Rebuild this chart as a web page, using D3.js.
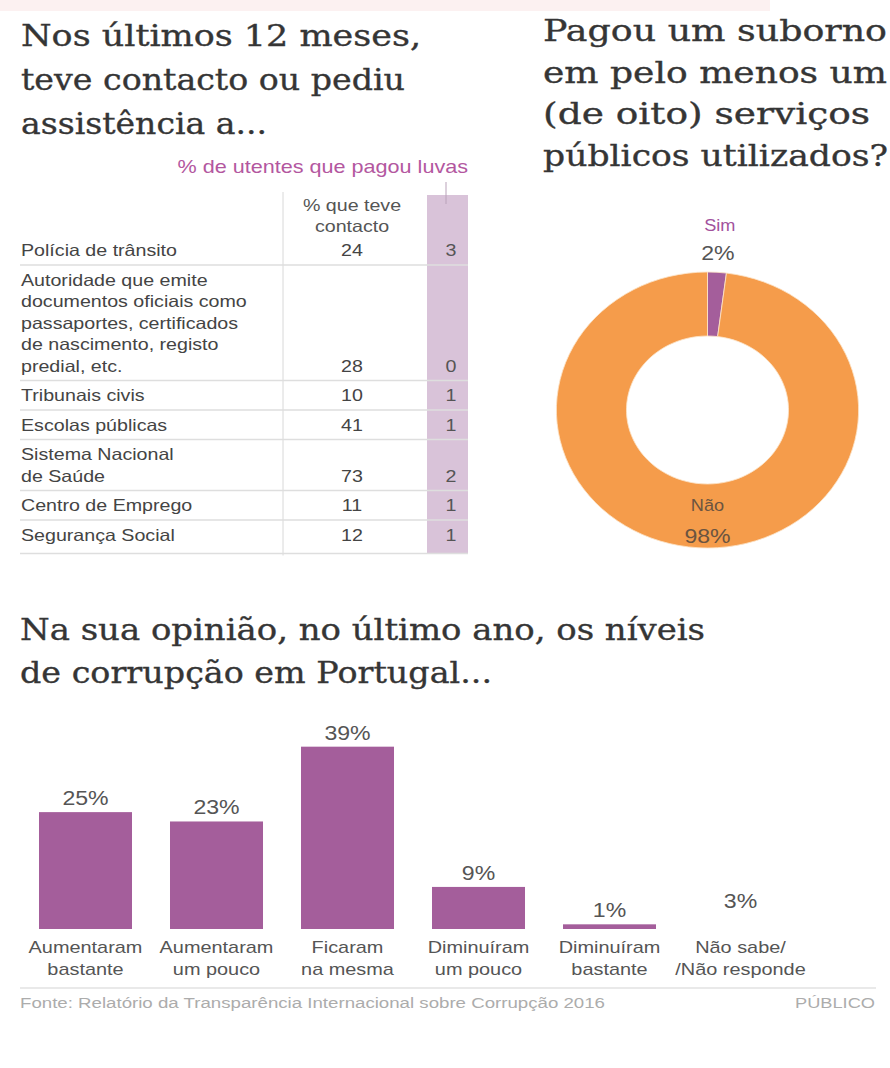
<html>
<script src="https://d3js.org/d3.v7.min.js"></script>
<style>
body { margin: 0; background: #fff; }
svg { display: block; }
</style>
<body>
<svg width="890" height="1068"></svg>
<script>
// ---- data ----
var titleLeft = ["Nos últimos 12 meses,", "teve contacto ou pediu", "assistência a..."];
var titleRight = ["Pagou um suborno", "em pelo menos um", "(de oito) serviços", "públicos utilizados?"];
var titleBottom = ["Na sua opinião, no último ano, os níveis", "de corrupção em Portugal..."];

var rowLabels = [
  ["Polícia de trânsito"],
  ["Autoridade que emite", "documentos oficiais como", "passaportes, certificados", "de nascimento, registo", "predial, etc."],
  ["Tribunais civis"],
  ["Escolas públicas"],
  ["Sistema Nacional", "de Saúde"],
  ["Centro de Emprego"],
  ["Segurança Social"]
];
var contacto = [24, 28, 10, 41, 73, 11, 12];
var luvas = [3, 0, 1, 1, 2, 1, 1];

var pieLabels = ["Sim", "Não"];
var pieValues = [2, 98];

var barCats = [
  ["Aumentaram", "bastante"],
  ["Aumentaram", "um pouco"],
  ["Ficaram", "na mesma"],
  ["Diminuíram", "um pouco"],
  ["Diminuíram", "bastante"],
  ["Não sabe/", "/Não responde"]
];
var barValues = [25, 23, 39, 9, 1, 3];

var source = "Fonte: Relatório da Transparência Internacional sobre Corrupção 2016";

// ---- helpers ----
var purple = "#a45e9b", lilac = "#d9c3d9", orange = "#f59c4b";
var sans = "'Liberation Sans', Arial, sans-serif";
var serif = "'DejaVu Serif', Georgia, serif";
var svg = d3.select("svg");

// text squeezed/stretched horizontally like the original
function stxt(g, x, y, s, size, sx, anchor, fill) {
  return g.append("text")
    .attr("transform", "translate(" + x + "," + y + ") scale(" + sx + ",1)")
    .attr("font-family", sans)
    .attr("font-size", size)
    .attr("text-anchor", anchor || "start")
    .attr("fill", fill || "#444")
    .text(s);
}
function title(lines, x, y0, step, widths) {
  lines.forEach(function(l, i) {
    svg.append("text")
      .attr("x", x).attr("y", y0 + i * step)
      .attr("font-family", serif)
      .attr("font-size", 29.5)
      .attr("fill", "#353535")
      .attr("stroke", "#353535").attr("stroke-width", 0.35)
      .attr("textLength", widths[i])
      .attr("lengthAdjust", "spacingAndGlyphs")
      .text(l);
  });
}

svg.append("rect").attr("x", 0).attr("y", 0).attr("width", 770).attr("height", 11).attr("fill", "#fcf1f1");

// ---- titles ----
title(titleLeft, 21, 46, 44, [400, 384, 246]);
title(titleRight, 543, 41, 41.5, [344, 344, 327, 345]);
title(titleBottom, 20, 640, 43, [685, 472]);

// ---- table ----
var tbl = svg.append("g");
var lineH = 21.5, pad = 8, top0 = 235.5;
var colC = 352, colL = 451;
var tops = [], y = top0;
rowLabels.forEach(function(r) { tops.push(y); y += r.length * lineH + pad; });
var tableBottom = y + 4;

tbl.append("rect").attr("x", 427).attr("y", 195).attr("width", 41).attr("height", tableBottom - 195).attr("fill", lilac);
tbl.append("line").attr("x1", 283).attr("x2", 283).attr("y1", 192).attr("y2", tableBottom + 2)
  .attr("stroke", "#d8d8d8").attr("stroke-width", 1);
tbl.append("line").attr("x1", 446).attr("x2", 446).attr("y1", 182).attr("y2", 204)
  .attr("stroke", "#b9a2b9").attr("stroke-width", 1);

stxt(tbl, 468, 173, "% de utentes que pagou luvas", 18, 1.2, "end", "#b3579f");
stxt(tbl, colC, 211, "% que teve", 16.5, 1.19, "middle", "#555");
stxt(tbl, colC, 232, "contacto", 16.5, 1.19, "middle", "#555");

rowLabels.forEach(function(r, i) {
  var bottom = tops[i] + r.length * lineH + pad;
  var base = bottom - 9;
  r.forEach(function(l, j) {
    stxt(tbl, 21, base - (r.length - 1 - j) * lineH, l, 16.5, 1.19, "start", "#444");
  });
  stxt(tbl, colC, base, contacto[i], 16.5, 1.19, "middle", "#444");
  stxt(tbl, colL, base, luvas[i], 16.5, 1.19, "middle", "#555");
  var ly = i === rowLabels.length - 1 ? tableBottom : bottom;
  tbl.append("line").attr("x1", 20).attr("x2", 468).attr("y1", ly).attr("y2", ly)
    .attr("stroke", "#dedede").attr("stroke-width", 1.3);
});

// ---- donut ----
var cx = 707.5, cy = 410, rOut = 138, rIn = 74, sx = 1.095;
var pie = d3.pie().sort(null).value(function(d) { return d; });
var arcs = pie(pieValues);
var arc = d3.arc().innerRadius(rIn).outerRadius(rOut);
var dg = svg.append("g").attr("transform", "translate(" + cx + "," + cy + ") scale(" + sx + ",1)");
dg.selectAll("path").data(arcs).enter().append("path")
  .attr("d", arc)
  .attr("fill", function(d, i) { return i === 0 ? purple : orange; })
  .attr("stroke", "#fbe3c8").attr("stroke-width", 0.8);

arcs.forEach(function(d, i) {
  var small = d.endAngle - d.startAngle < Math.PI;
  var a = small ? (d.startAngle + d.endAngle) / 2 : Math.PI;
  var rName = small ? 179 : 101, rPct = small ? 150 : 133;
  var px = function(r) { return cx + Math.sin(a) * r * sx; };
  var py = function(r) { return cy - Math.cos(a) * r; };
  stxt(svg, px(rName), py(rName), pieLabels[i], 16.5, 1.1, "middle", small ? "#a2529d" : "#6b5440");
  stxt(svg, px(rPct), py(rPct), pieValues[i] + "%", 21, 1.1, "middle", small ? "#555" : "#6b5440");
});

// ---- bars ----
var x = d3.scaleBand().domain(d3.range(barValues.length)).range([20, 806]).paddingInner(0.29).paddingOuter(0.145);
var yb = d3.scaleLinear().domain([0, 40]).range([929, 742]);
var bg = svg.append("g");
bg.selectAll("rect").data(barValues).enter().append("rect")
  .attr("x", function(d, i) { return x(i); })
  .attr("y", function(d) { return yb(d); })
  .attr("width", x.bandwidth())
  .attr("height", function(d) { return yb(0) - yb(d); })
  .attr("fill", function(d, i) { return i === barValues.length - 1 ? "none" : purple; });

barValues.forEach(function(v, i) {
  var c = x(i) + x.bandwidth() / 2;
  stxt(bg, c, yb(v) - 7, v + "%", 21, 1.1, "middle", "#555");
  stxt(bg, c, 953, barCats[i][0], 17, 1.17, "middle", "#555");
  stxt(bg, c, 975, barCats[i][1], 17, 1.17, "middle", "#555");
});

// ---- footer ----
svg.append("line").attr("x1", 20).attr("x2", 876).attr("y1", 988).attr("y2", 988)
  .attr("stroke", "#e2e2e2").attr("stroke-width", 1.5);
svg.append("text").attr("x", 20).attr("y", 1008)
  .attr("font-family", sans).attr("font-size", 14).attr("fill", "#acacac")
  .attr("textLength", 585).attr("lengthAdjust", "spacingAndGlyphs")
  .text(source);
svg.append("text").attr("x", 795).attr("y", 1008)
  .attr("font-family", sans).attr("font-size", 14).attr("fill", "#acacac")
  .attr("textLength", 80).attr("lengthAdjust", "spacingAndGlyphs")
  .text("PÚBLICO");
</script>
</body>
</html>
